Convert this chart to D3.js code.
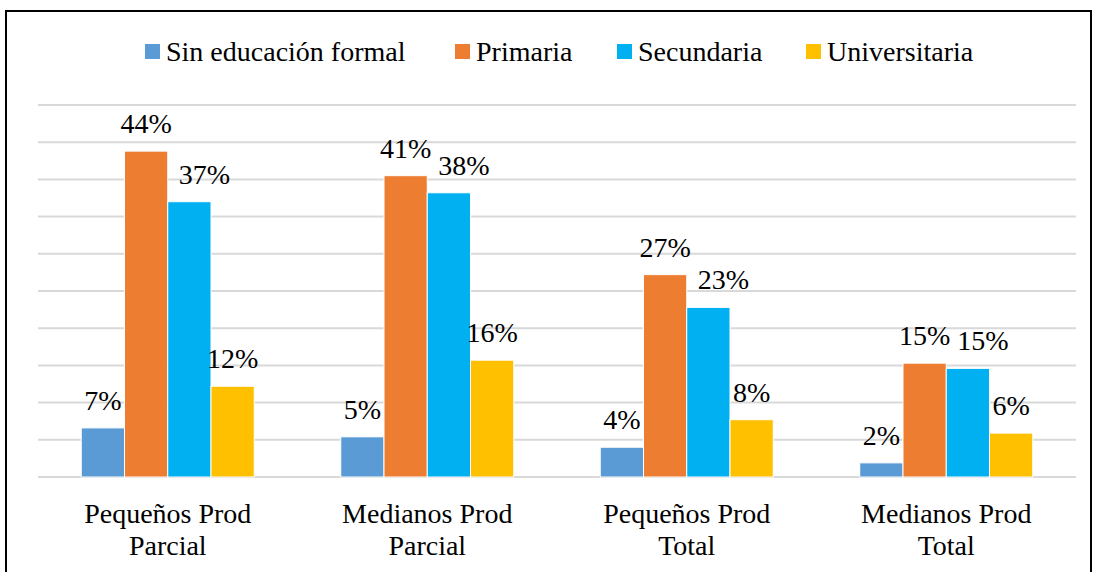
<!DOCTYPE html>
<html>
<head>
<meta charset="utf-8">
<script src="https://cdn.jsdelivr.net/npm/d3@7"></script>
<style>
    body { margin: 0; background: #fff; }
</style>
</head>
<body>
<script>
"use strict";
(function(){
    // Categories, series and values (percent)
    const categories = [["Pequeños Prod", "Parcial"], ["Medianos Prod", "Parcial"], ["Pequeños Prod", "Total"], ["Medianos Prod", "Total"]]
    const series = ["Sin educación formal", "Primaria", "Secundaria", "Universitaria"]
    const sinEducacion = [6.6, 5.4, 4.0, 1.9]
    const primaria = [43.8, 40.5, 27.2, 15.3]
    const secundaria = [37.0, 38.2, 22.8, 14.6]
    const universitaria = [12.2, 15.7, 7.7, 5.9]
    const gridTicks = [0, 5, 10, 15, 20, 25, 30, 35, 40, 45, 50]

    const colors = ["#5B9BD5", "#ED7D31", "#00B0F0", "#FFC000"]
    // Secundaria labels sit a bit to the right so they don't collide
    const labelShift = [0, 0, 15, 0]
    const values = [sinEducacion, primaria, secundaria, universitaria]
    const serif = "'Liberation Serif', 'DejaVu Serif', serif"

    const measurements = {
        width: 1094,
        height: 572,
        left: 38,
        right: 1076,
        top: 105,
        bottom: 477
    }

    const svg = d3.select("body").append("svg")
        .attr("width", measurements.width)
        .attr("height", measurements.height)
        .attr("font-family", serif)

    // Outer frame
    svg.append("rect")
        .attr("x", 6)
        .attr("y", 11)
        .attr("width", 1085)
        .attr("height", 600)
        .attr("fill", "none")
        .attr("stroke", "#000")
        .attr("stroke-width", 2)

    let catKeys = categories.map((c, i) => i)
    let scaleX = d3.scaleBand()
        .domain(catKeys)
        .range([measurements.left, measurements.right])
    let scaleInner = d3.scaleBand()
        .domain(series)
        .range([0, scaleX.bandwidth()])
        .paddingOuter(1)
    let scaleY = d3.scaleLinear()
        .domain([0, 50])
        .range([measurements.bottom, measurements.top])

    // Gridlines
    svg.append("g").selectAll("line")
        .data(gridTicks)
        .enter()
        .append("line")
            .attr("x1", measurements.left)
            .attr("x2", measurements.right)
            .attr("y1", d => scaleY(d))
            .attr("y2", d => scaleY(d))
            .attr("stroke", "#D9D9D9")
            .attr("stroke-width", 2)

    // Bars and labels for each series
    series.forEach(function(name, s) {
        let g = svg.append("g")
        g.selectAll("rect")
            .data(values[s])
            .enter()
            .append("rect")
                .attr("x", (d, i) => scaleX(i) + scaleInner(name))
                .attr("y", d => scaleY(d))
                .attr("width", scaleInner.bandwidth())
                .attr("height", d => scaleY(0) - scaleY(d))
                .attr("fill", colors[s])
                .attr("stroke", "#fff")
                .attr("stroke-width", 1)
        g.selectAll("text")
            .data(values[s])
            .enter()
            .append("text")
                .attr("x", (d, i) => scaleX(i) + scaleInner(name) + scaleInner.bandwidth() / 2 + labelShift[s])
                .attr("y", d => scaleY(d) - 18)
                .attr("text-anchor", "middle")
                .attr("font-family", serif)
                .attr("font-size", 28)
                .text(d => Math.round(d) + "%")
    })

    // Category labels (two lines)
    let catLabels = svg.append("g").selectAll("text")
        .data(categories)
        .enter()
        .append("text")
            .attr("text-anchor", "middle")
            .attr("font-family", serif)
            .attr("font-size", 28)
    catLabels.append("tspan")
        .attr("x", (d, i) => scaleX(i) + scaleX.bandwidth() / 2)
        .attr("y", 523)
        .text(d => d[0])
    catLabels.append("tspan")
        .attr("x", (d, i) => scaleX(i) + scaleX.bandwidth() / 2)
        .attr("y", 555)
        .text(d => d[1])

    // Legend
    const legendX = [145, 455, 617, 806]
    let legend = svg.append("g").selectAll("g")
        .data(series)
        .enter()
        .append("g")
            .attr("transform", (d, i) => "translate(" + legendX[i] + ",0)")
    legend.append("rect")
        .attr("x", 0)
        .attr("y", 44)
        .attr("width", 15)
        .attr("height", 15)
        .attr("fill", (d, i) => colors[i])
    legend.append("text")
        .attr("x", 21)
        .attr("y", 61)
        .attr("font-family", serif)
        .attr("font-size", 28)
        .text(d => d)
})()
</script>
</body>
</html>
